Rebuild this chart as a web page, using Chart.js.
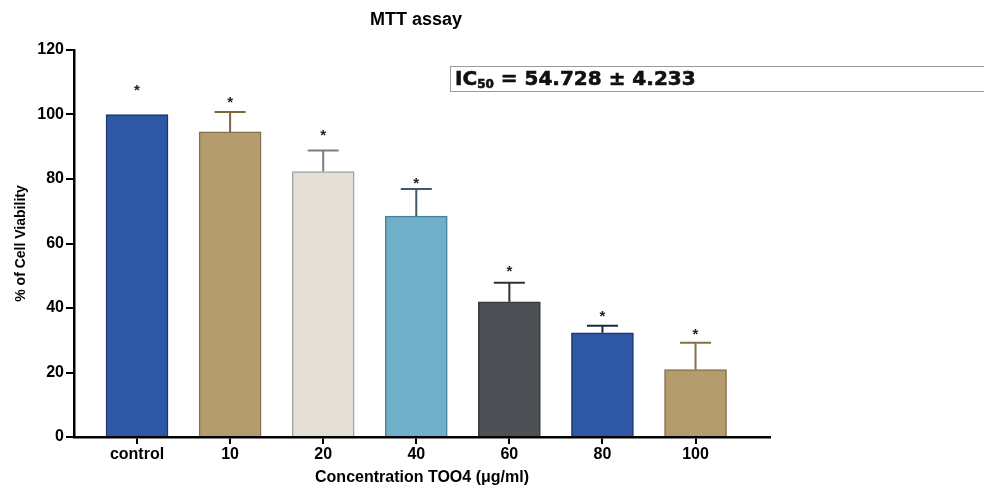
<!DOCTYPE html>
<html>
<head>
<meta charset="utf-8">
<script src="https://cdn.jsdelivr.net/npm/chart.js@4.4.1/dist/chart.umd.min.js"></script>
<style>
  html, body { margin: 0; padding: 0; background: #fff; }
  #wrap { position: relative; width: 984px; height: 487px; overflow: hidden; }
  #ic50 {
    position: absolute; left: 450px; top: 66px; width: 600px; height: 26px;
    border: 1px solid #9a9a9a; box-sizing: border-box;
    font-family: "DejaVu Sans", sans-serif; font-weight: bold; font-size: 20px;
    line-height: 23px; padding-left: 4px; color: #111;
    -webkit-text-stroke: 0.6px #111;
  }
  #ic50 sub { font-size: 12px; vertical-align: -3px; line-height: 0; }
</style>
</head>
<body>
<div id="wrap">
  <canvas id="c" width="984" height="487"></canvas>
  <div id="ic50">IC<sub>50</sub> = 54.728 ± 4.233</div>
</div>
<script>
const categories = ['control', '10', '20', '40', '60', '80', '100'];
const means = [100, 94.6, 82.3, 68.5, 41.9, 32.3, 20.9];
const errors = [0, 6.2, 6.5, 8.4, 5.9, 2.2, 8.3];
const starLevels = [108.5, 104.8, 94.6, 79.7, 52.4, 38.4, 32.9];
const yTicks = [0, 20, 40, 60, 80, 100, 120];

const fillColors = ['#2E57A5', '#B59C6F', '#E3DFD5', '#70AFC9', '#4D5156', '#2E57A5', '#B59C6F'];
const borderColors = ['#1D3668', '#84704A', '#A3A3A3', '#4E8196', '#34373B', '#1D3668', '#84704A'];
const errColors = ['#1D3668', '#7A6742', '#7E7E7E', '#3F5A68', '#2E3135', '#16284E', '#84704A'];

const FONT = '"Liberation Sans", Arial, sans-serif';

const overlay = {
  id: 'overlay',
  afterDatasetsDraw(chart) {
    const ctx = chart.ctx;
    const xs = chart.scales.x, ys = chart.scales.y;
    ctx.save();
    for (let i = 0; i < means.length; i++) {
      const x = xs.getPixelForValue(i);
      if (errors[i] > 0) {
        const y0 = ys.getPixelForValue(means[i]);
        const y1 = ys.getPixelForValue(means[i] + errors[i]);
        ctx.strokeStyle = errColors[i];
        ctx.lineWidth = 2;
        ctx.beginPath();
        ctx.moveTo(x, y0); ctx.lineTo(x, y1);
        ctx.moveTo(x - 15.5, y1); ctx.lineTo(x + 15.5, y1);
        ctx.stroke();
      }
      ctx.fillStyle = '#222';
      ctx.font = 'bold 15px ' + FONT;
      ctx.textAlign = 'center';
      ctx.textBaseline = 'top';
      ctx.fillText('*', x, ys.getPixelForValue(starLevels[i]) - 4);
    }
    // title
    ctx.fillStyle = '#000';
    ctx.font = 'bold 18px ' + FONT;
    ctx.textAlign = 'center';
    ctx.textBaseline = 'middle';
    ctx.fillText('MTT assay', 416, 20);
    ctx.restore();
  }
};

new Chart(document.getElementById('c'), {
  type: 'bar',
  data: {
    datasets: [{
      data: means.map((v, i) => ({ x: i, y: v })),
      backgroundColor: fillColors,
      borderColor: borderColors,
      borderWidth: 1.5,
      borderSkipped: 'bottom',
      barThickness: 62
    }]
  },
  options: {
    responsive: false,
    animation: false,
    layout: { padding: { top: 50, right: 214, left: 0, bottom: 0 } },
    plugins: { legend: { display: false }, tooltip: { enabled: false }, title: { display: false } },
    scales: {
      x: {
        type: 'linear',
        offset: false,
        min: -0.677,
        max: 6.8,
        afterBuildTicks(scale) { scale.ticks = categories.map((c, i) => ({ value: i })); },
        afterFit(scale) { scale.height = 50; },
        ticks: {
          callback: (v) => categories[v],
          color: '#000',
          font: { family: FONT, size: 16, weight: 'bold' },
          padding: 1,
          maxRotation: 0,
          autoSkip: false
        },
        grid: { display: true, offset: false, drawOnChartArea: false, drawTicks: true, tickLength: 7, color: '#000', lineWidth: 2 },
        border: { display: true, color: '#000', width: 2.5 },
        title: {
          display: true,
          text: 'Concentration TOO4 (\u03BCg/ml)',
          color: '#000',
          font: { family: FONT, size: 16, weight: 'bold' },
          padding: { top: 4, bottom: 0 }
        }
      },
      y: {
        min: 0,
        max: 120,
        afterBuildTicks(scale) { scale.ticks = yTicks.map(v => ({ value: v })); },
        afterFit(scale) { scale.width = 74; },
        ticks: {
          color: '#000',
          font: { family: FONT, size: 16, weight: 'bold' },
          padding: 2
        },
        grid: { display: true, drawOnChartArea: false, drawTicks: true, tickLength: 8, color: '#000', lineWidth: 2 },
        border: { display: true, color: '#000', width: 2.5 },
        title: {
          display: true,
          text: '% of Cell Viability',
          color: '#000',
          font: { family: FONT, size: 14, weight: 'bold' },
          padding: { top: 13, bottom: 0 }
        }
      }
    }
  },
  plugins: [overlay]
});
</script>
</body>
</html>
